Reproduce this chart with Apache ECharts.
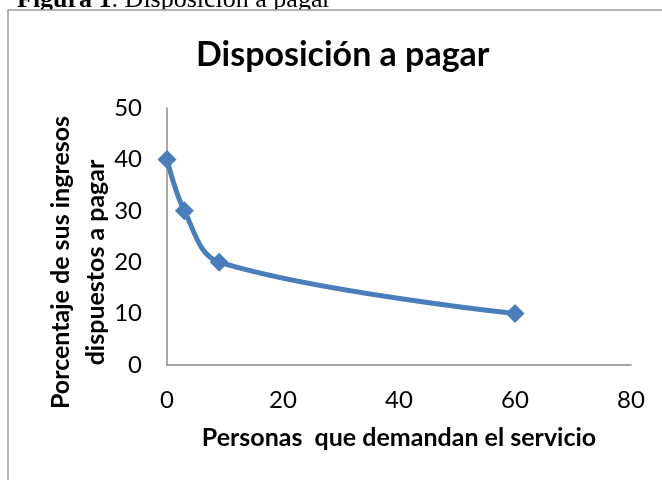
<!DOCTYPE html>
<html>
<head>
<meta charset="utf-8">
<script src="https://cdn.jsdelivr.net/npm/echarts@6/dist/echarts.min.js"></script>
<style>
  html, body { margin: 0; padding: 0; background: #fff; }
  #chart { width: 662px; height: 480px; }
</style>
</head>
<body>
<div id="chart"></div>
<script>
// Willingness-to-pay curve: people demanding the service vs. share of income
const personas = [0, 3, 9, 60];
const porcentaje = [40, 30, 20, 10];
const xTicks = [0, 20, 40, 60, 80];
const yTicks = [0, 10, 20, 30, 40, 50];

const chartTitle = 'Disposición a pagar';
const xTitle = 'Personas  que demandan el servicio';
const yTitle = 'Porcentaje de sus ingresos\ndispuestos a pagar';

const uiFont = 'Lato, "Open Sans", sans-serif';
const axisGray = '#8c8c8c';
const lineBlue = '#4a7ebb';

const chart = echarts.init(document.getElementById('chart'), null, { renderer: 'canvas' });

chart.setOption({
  animation: false,
  backgroundColor: '#ffffff',
  graphic: [
    {
      // figure caption above the chart frame
      type: 'text',
      z: -20,
      x: 17,
      y: 13,
      style: {
        text: '{b|Figura 1}{r|. Disposición a pagar}',
        textVerticalAlign: 'bottom',
        rich: {
          b: { fontFamily: '"Liberation Serif", serif', fontSize: 26, fontWeight: 'bold', fill: '#000' },
          r: { fontFamily: '"Liberation Serif", serif', fontSize: 26, fill: '#000' }
        }
      },
      silent: true
    },
    {
      // chart frame
      type: 'rect',
      z: -10,
      shape: { x: 8, y: 10, width: 700, height: 520 },
      style: { fill: '#ffffff', stroke: '#9a9a9a', lineWidth: 1.5 },
      silent: true
    }
  ],
  title: {
    text: chartTitle,
    left: 191,
    top: 33,
    textStyle: { fontFamily: uiFont, fontSize: 34, fontWeight: 'bold', color: '#000' }
  },
  grid: { left: 167, right: 31, top: 108, bottom: 115, containLabel: false },
  xAxis: {
    type: 'value',
    min: xTicks[0],
    max: xTicks[xTicks.length - 1],
    interval: xTicks[1] - xTicks[0],
    name: xTitle,
    nameLocation: 'middle',
    nameGap: 60,
    nameMoveOverlap: false,
    nameTextStyle: { fontFamily: uiFont, fontSize: 25, fontWeight: 'bold', color: '#000' },
    axisLine: { show: true, onZero: false, lineStyle: { color: axisGray, width: 1.5 } },
    axisTick: { show: false },
    splitLine: { show: false },
    axisLabel: { margin: 23, fontFamily: uiFont, fontSize: 24, color: '#000' }
  },
  yAxis: {
    type: 'value',
    min: yTicks[0],
    max: yTicks[yTicks.length - 1],
    interval: yTicks[1] - yTicks[0],
    name: yTitle,
    nameLocation: 'middle',
    nameRotate: 90,
    nameGap: 54,
    nameMoveOverlap: false,
    nameTextStyle: {
      fontFamily: uiFont, fontSize: 25, fontWeight: 'bold', color: '#000',
      lineHeight: 35, padding: [0, 52, 0, 0]
    },
    axisLine: { show: true, onZero: false, lineStyle: { color: axisGray, width: 1.5 } },
    axisTick: { show: false },
    splitLine: { show: false },
    axisLabel: { margin: 25, fontFamily: uiFont, fontSize: 24, color: '#000' }
  },
  series: [
    {
      type: 'line',
      data: personas.map((x, i) => [x, porcentaje[i]]),
      smooth: 0.35,
      symbol: 'diamond',
      symbolSize: 19,
      itemStyle: { color: lineBlue },
      lineStyle: { color: lineBlue, width: 5 },
      clip: false
    }
  ]
});
</script>
</body>
</html>
